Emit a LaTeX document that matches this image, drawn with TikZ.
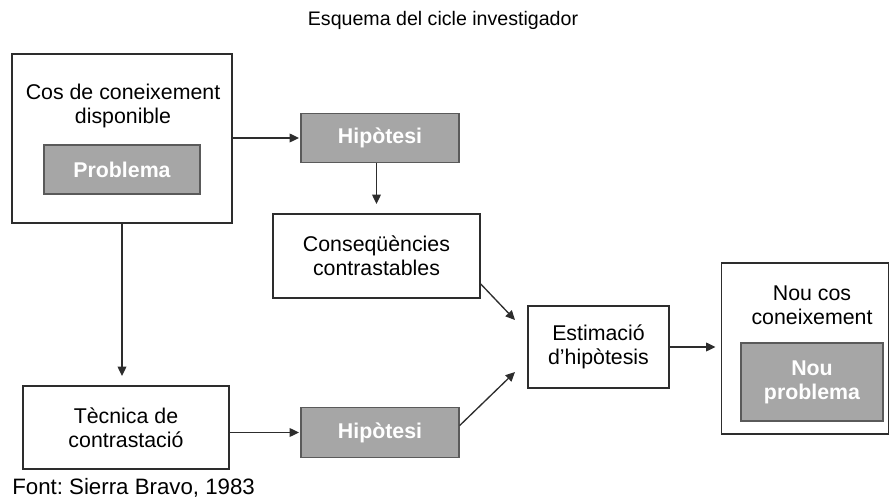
\documentclass[tikz,border=0pt]{standalone}
\usepackage{fontspec}
\setmainfont{Liberation Sans}
\usetikzlibrary{arrows.meta}
\frenchspacing
\definecolor{boxgray}{RGB}{166,166,166}
\definecolor{edgegray}{RGB}{90,90,90}
\definecolor{linegray}{RGB}{45,45,45}
\newcommand{\textSize}[0]{\fontsize{16}{18}\selectfont}
\newcommand{\titleSize}[0]{\fontsize{14.7}{17}\selectfont}
\newcommand{\lineWidth}[0]{1pt}

\begin{document}
\begin{tikzpicture}[x=0.75pt, y=-0.75pt, >={Triangle[length=7pt,width=6.5pt]}]
  \tikzset{every node/.style={inner sep=0pt, align=center, font=\textSize},
    plain box/.style={draw=linegray, line width=\lineWidth, fill=white},
    gray box/.style={draw=edgegray, line width=\lineWidth, fill=boxgray, text=white, font=\textSize\bfseries},
    link/.style={draw=linegray, line width=\lineWidth, ->}}
  \useasboundingbox (0,0) rectangle (890,499);
  \node[font=\titleSize] (title) at (443,20) {Esquema del cicle investigador};
  \node[plain box, minimum width=165pt, minimum height=126.75pt] (cos-1) at (122,138.5) {};
  \node (cos-1-txt) at (123,106) {Cos de coneixement\\disponible};
  \node[gray box, minimum width=117pt, minimum height=36.75pt] (prob-1) at (122,169.5) {Problema};
  \node[gray box, minimum width=118.5pt, minimum height=36.75pt] (hip-1) at (380,138) {Hipòtesi};
  \node[plain box, minimum width=155.25pt, minimum height=63pt] (cons) at (376.5,256) {Conseqüències\\contrastables};
  \node[plain box, minimum width=154.5pt, minimum height=62.25pt] (tec) at (126,427.5) {Tècnica de\\contrastació};
  \node[gray box, minimum width=118.5pt, minimum height=37.5pt] (hip-2) at (380,432.5) {Hipòtesi};
  \node[plain box, minimum width=105.75pt, minimum height=61.5pt] (est) at (598.5,347) {Estimació\\d’hipòtesis};
  \node[plain box, minimum width=125.25pt, minimum height=128.25pt] (nou) at (805,348.5) {};
  \node (nou-txt) at (812,305) {Nou cos\\coneixement};
  \node[gray box, minimum width=106.5pt, minimum height=58.5pt] (nou-prob) at (812,382) {Nou\\problema};
  \node[anchor=west, font=\fontsize{16.7}{18}\selectfont] (font) at (12,488) {Font: Sierra Bravo, 1983};
  \coordinate (tip-1) at (515,320);
  \coordinate (tip-2) at (515,372);
  \draw[link, shorten >=1pt] (cos-1.east |- hip-1.west) -- (hip-1.west);
  \draw[link, shorten >=7pt] (hip-1.south -| cons.north) -- (cons.north);
  \draw[link, shorten >=7pt] (cos-1.south) -- (cos-1.south |- tec.north);
  \draw[link, shorten >=1pt] (tec.east |- hip-2.west) -- (hip-2.west);
  \draw[link] (cons.-15) -- (tip-1);
  \draw[link] (hip-2.5) -- (tip-2);
  \draw[link, shorten >=4pt] (est.east) -- (est.east -| nou.west);
\end{tikzpicture}
\end{document}
